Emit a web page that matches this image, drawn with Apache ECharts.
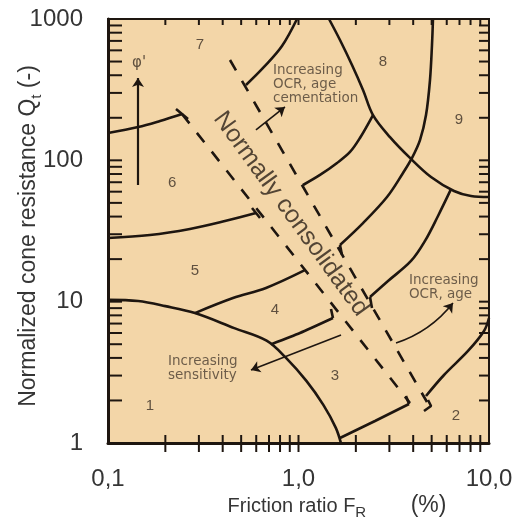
<!DOCTYPE html>
<html>
<head>
<meta charset="utf-8">
<script src="https://cdn.jsdelivr.net/npm/echarts@6/dist/echarts.min.js"></script>
<style>
  html, body { margin: 0; padding: 0; background: #ffffff; }
  #chart { width: 514px; height: 519px; }
</style>
</head>
<body>
<div id="chart"></div>
<script>
// Normalized soil behaviour type chart (Robertson 1990): Qt against FR, both log scaled.

// ---- axis ticks and labels ----
const xTickValues = [0.1, 1, 10];
const xTickLabels = ['0,1', '1,0', '10,0'];
const yTickValues = [1, 10, 100, 1000];
const yTickLabels = ['1', '10', '100', '1000'];
const minorMultipliers = [1, 2, 3, 4, 5, 6, 7, 8, 9];

// ---- zone boundaries, points are [FR (%), Qt] ----
const zone1Boundary = [[0.1, 10.3], [0.144, 10.1], [0.2, 9.3], [0.286, 8.3], [0.46, 6.5], [0.68, 5.3],
  [0.86, 4.0], [1.1, 2.75], [1.35, 1.86], [1.57, 1.28], [1.67, 1.0]];
const zone45Left = [[0.286, 8.3], [0.453, 10.6], [0.675, 12.5], [1.08, 16.7]];
const zone34Left = [[0.72, 5.0], [1.018, 6.0], [1.517, 7.66]];
const zone56Left = [[0.1, 28.2], [0.166, 29.6], [0.269, 32.7], [0.411, 37.2], [0.598, 42.4]];
const zone67Left = [[0.1, 156], [0.144, 172], [0.1875, 190], [0.245, 213]];
const zone67Right = [[0.53, 341], [0.659, 458], [0.819, 644], [0.982, 1000]];
const zone78Boundary = [[1.446, 1000], [1.651, 710], [1.909, 473], [2.181, 315], [2.461, 209], [3.022, 146],
  [3.848, 104], [4.962, 76.2], [6.551, 60.7], [8.045, 55.9], [10, 55]];
const zone56Right = [[1.056, 66.9], [1.297, 78.8], [1.593, 95.8], [1.864, 114.6], [2.102, 143.9], [2.461, 209]];
const zone45Right = [[1.651, 25.2], [2.181, 36.0], [2.915, 55.0], [3.537, 81.4], [3.943, 104], [4.342, 139],
  [4.67, 209], [4.90, 370], [5.02, 655], [5.08, 1000]];
const zone34Right = [[2.373, 10.8], [2.95, 14.0], [3.896, 19.4], [4.613, 26.9], [5.399, 40.4], [6.3, 62]];
const zone23Left = [[1.651, 1.085], [2.521, 1.431], [3.803, 1.888]];
const zone2Boundary = [[4.67, 2.151], [5.805, 3.028], [7.759, 4.477], [9.415, 6.2], [10, 7.66]];

// normally consolidated band (dashed)
const ncLowerEdge = [[0.2446, 212.8], [3.848, 1.919]];
const ncUpperEdge = [[0.4369, 512.8], [4.727, 1.95]];

// short end strokes where boundaries meet the band
const endStrokes = [
  [[0.2275, 230.8], [0.263, 196.1]],
  [[0.570, 46.0], [0.628, 39.1]],
  [[1.517, 7.66], [1.481, 8.87]],
  [[3.803, 1.888], [3.667, 2.151]],
  [[1.651, 25.2], [1.692, 21.4]],
  [[2.373, 10.8], [2.431, 9.02]],
  [[4.784, 2.015], [4.962, 1.827], [4.558, 1.684]]
];

// trend arrows [from, to]
const phiArrow = [[0.1437, 66.9], [0.1437, 382]];
const ocrCementationArrow = [[0.598, 164], [0.849, 238.5]];
const sensitivityArrow = [[1.672, 5.81], [0.563, 3.286]];
const ocrAgeArrow = [[3.25, 5.10], [6.47, 9.79]];

// zone numbers
const zoneNames = ['1', '2', '3', '4', '5', '6', '7', '8', '9'];
const zoneAnchors = [[0.166, 1.83], [6.71, 1.55], [1.555, 2.98], [0.753, 8.73], [0.286, 16.5],
  [0.217, 69.1], [0.304, 655], [2.777, 496], [6.96, 193]];

const INK = '#1e1610';
const TEXT = '#4a3d31';
const AXIS_TEXT = '#353535';

function nearestLabel(values, labels, v) {
  const i = values.findIndex(t => Math.abs(Math.log10(t) - Math.log10(v)) < 1e-6);
  return i >= 0 ? labels[i] : '';
}

// minor/major tick marks along all four edges, placed through the axis scales
const tickData = [];
[0.1, 1].forEach(d => minorMultipliers.forEach(m => {
  const v = +(d * m).toPrecision(3);
  if (v > 0.1 && v < 10) tickData.push([v, 1, 0]);
}));
[1, 10, 100].forEach(d => minorMultipliers.forEach(m => {
  const v = d * m;
  if (v > 1 && v < 1000) tickData.push([0.1, v, 1]);
}));

function renderTick(params, api) {
  const style = { stroke: INK, lineWidth: 2 };
  if (api.value(2) === 0) {
    const b = api.coord([api.value(0), 1]);
    const t = api.coord([api.value(0), 1000]);
    return { type: 'group', children: [
      { type: 'line', shape: { x1: b[0], y1: b[1] - 8, x2: b[0], y2: b[1] + 9 }, style },
      { type: 'line', shape: { x1: t[0], y1: t[1], x2: t[0], y2: t[1] + 6 }, style }
    ] };
  }
  const l = api.coord([0.1, api.value(1)]);
  const r = api.coord([10, api.value(1)]);
  return { type: 'group', children: [
    { type: 'line', shape: { x1: l[0], y1: l[1], x2: l[0] + 14, y2: l[1] }, style },
    { type: 'line', shape: { x1: r[0], y1: r[1], x2: r[0] - 10, y2: r[1] }, style }
  ] };
}

function solid(data, smooth) {
  return {
    type: 'line', data: data, smooth: smooth === undefined ? 0.35 : smooth,
    showSymbol: false, symbol: 'none', silent: true, z: 3,
    lineStyle: { color: INK, width: 2.6 }
  };
}

function dashed(data) {
  return {
    type: 'line', data: data, showSymbol: false, symbol: 'none', silent: true, z: 3,
    lineStyle: { color: INK, width: 2.6, type: [12, 12] }
  };
}

function arrow(pair, width, curveness) {
  return {
    type: 'lines', coordinateSystem: 'cartesian2d', silent: true, z: 4,
    symbol: ['none', 'arrow'], symbolSize: 9,
    lineStyle: { color: INK, width: width, curveness: curveness || 0, opacity: 1 },
    data: [{ coords: pair }]
  };
}

function textAt(point, text, label) {
  return {
    type: 'scatter', silent: true, z: 5, symbolSize: 1,
    itemStyle: { color: 'rgba(0,0,0,0)' },
    data: [{ value: point, name: text }],
    label: Object.assign({ show: true, position: 'inside', formatter: '{b}' }, label)
  };
}

const series = [
  { type: 'custom', renderItem: renderTick, data: tickData, clip: false, silent: true, z: 2 },
  solid(zone1Boundary), solid(zone45Left), solid(zone34Left, 0.2), solid(zone56Left), solid(zone67Left),
  solid(zone67Right), solid(zone78Boundary), solid(zone56Right), solid(zone45Right), solid(zone34Right),
  solid(zone23Left, 0), solid(zone2Boundary),
  dashed(ncLowerEdge), dashed(ncUpperEdge),
  arrow(phiArrow, 2.2), arrow(ocrCementationArrow, 1.6), arrow(sensitivityArrow, 1.6),
  arrow(ocrAgeArrow, 1.6, -0.15)
];
endStrokes.forEach(s => series.push(solid(s, 0)));

const zoneLabelSeries = {
  type: 'scatter', silent: true, z: 5, symbolSize: 1, itemStyle: { color: 'rgba(0,0,0,0)' },
  data: zoneNames.map((n, i) => ({ value: zoneAnchors[i], name: n })),
  label: { show: true, position: 'inside', formatter: '{b}', fontFamily: 'Liberation Sans',
    fontSize: 15, color: '#3a2e24' }
};
series.push(zoneLabelSeries);

const noteStyle = { fontFamily: 'DejaVu Sans', fontSize: 13.5, lineHeight: 14, color: TEXT,
  align: 'left', verticalAlign: 'top' };
series.push(textAt([0.735, 488], 'Increasing\nOCR, age\ncementation', noteStyle));
series.push(textAt([3.80, 15.7], 'Increasing\nOCR, age', noteStyle));
series.push(textAt([0.2065, 4.26], 'Increasing\nsensitivity', noteStyle));
series.push(textAt([0.1455, 488], "φ'", { fontFamily: 'DejaVu Sans', fontSize: 15, color: '#3a2e24' }));
series.push(textAt([0.913, 41.7], 'Normally consolidated', {
  fontFamily: 'Liberation Sans', fontSize: 25, color: '#2a2018', rotate: -54,
  align: 'center', verticalAlign: 'middle'
}));

const subStyle = { fontFamily: 'Liberation Sans', fontSize: 15, color: AXIS_TEXT, lineHeight: 15, verticalAlign: 'bottom' };

const option = {
  animation: false,
  backgroundColor: '#ffffff',
  grid: {
    left: 108, right: 25, top: 19, bottom: 76, show: true,
    outerBoundsMode: 'none', containLabel: false,
    backgroundColor: '#F3D6A8', borderColor: INK, borderWidth: 2
  },
  xAxis: {
    type: 'log', logBase: 10, min: 0.1, max: 10,
    name: 'Friction ratio F{s|R}        {p|(%)}', nameLocation: 'middle', nameGap: 49, nameMoveOverlap: false,
    nameTextStyle: {
      fontFamily: 'Liberation Sans', fontSize: 20, color: AXIS_TEXT, padding: [0, 0, 0, 77], lineHeight: 28,
      rich: {
        s: subStyle,
        p: { fontFamily: 'Liberation Sans', fontSize: 23, color: AXIS_TEXT, lineHeight: 28 }
      }
    },
    axisLine: { show: true, lineStyle: { color: INK, width: 3 } },
    axisTick: { show: false }, splitLine: { show: false }, minorTick: { show: false },
    axisLabel: {
      margin: 24, fontFamily: 'Liberation Sans', fontSize: 24, color: AXIS_TEXT,
      formatter: v => nearestLabel(xTickValues, xTickLabels, v)
    }
  },
  yAxis: {
    type: 'log', logBase: 10, min: 1, max: 1000,
    name: 'Normalized cone resistance Q{s|t} (-)', nameLocation: 'middle', nameGap: 64, nameRotate: 90,
    nameMoveOverlap: false,
    nameTextStyle: {
      fontFamily: 'Liberation Sans', fontSize: 23, color: AXIS_TEXT, padding: [0, 10, 0, 0], lineHeight: 30,
      rich: { s: subStyle }
    },
    axisLine: { show: true, lineStyle: { color: INK, width: 3 } },
    axisTick: { show: false }, splitLine: { show: false }, minorTick: { show: false },
    axisLabel: {
      margin: 25, fontFamily: 'Liberation Sans', fontSize: 24, color: AXIS_TEXT,
      formatter: v => nearestLabel(yTickValues, yTickLabels, v)
    }
  },
  series: series
};

const chart = echarts.init(document.getElementById('chart'));
chart.setOption(option);
</script>
</body>
</html>
